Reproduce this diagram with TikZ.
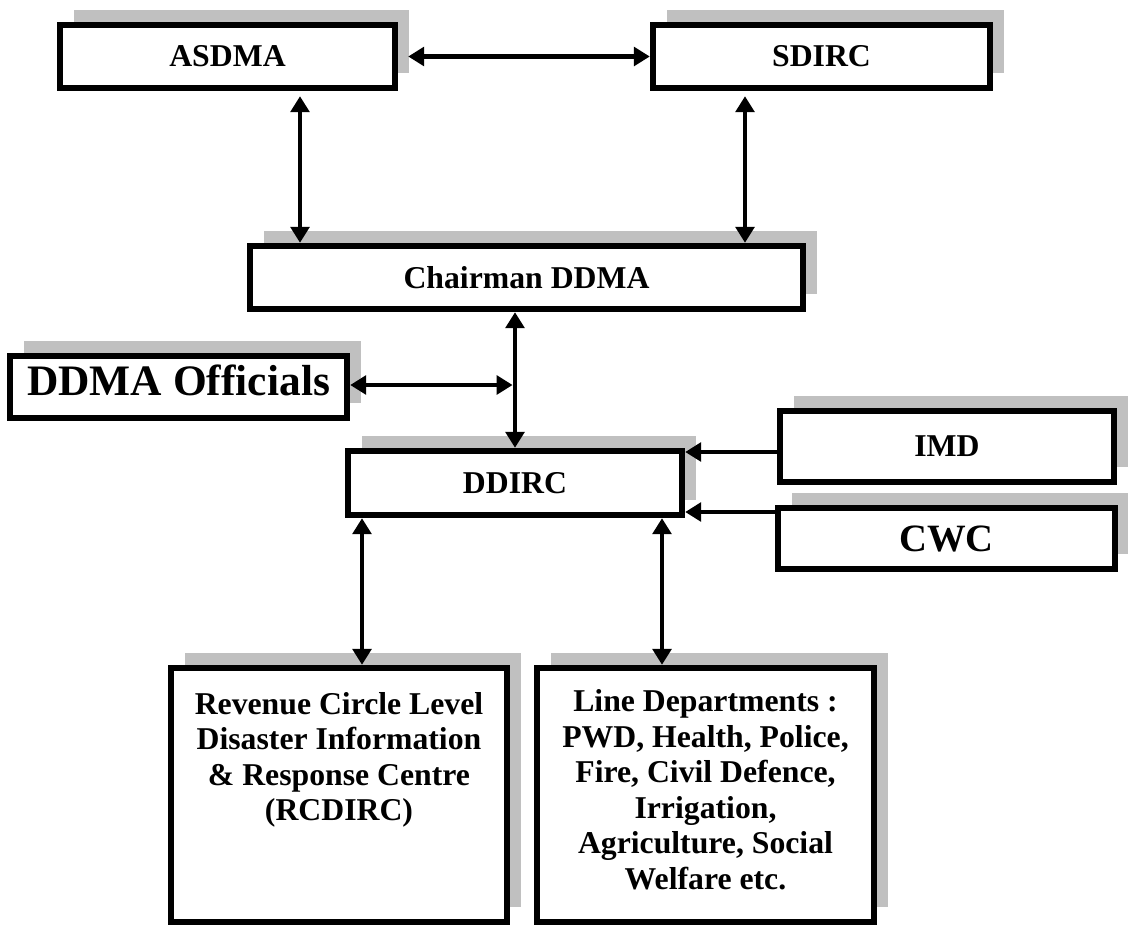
\documentclass[tikz,border=0pt]{standalone}
\usepackage{fontspec}
\setmainfont{Liberation Serif}
\usetikzlibrary{arrows.meta,shadows}
\definecolor{shadowgray}{RGB}{192,192,192}

\begin{document}
\begin{tikzpicture}[x=0.75pt,y=0.75pt,yscale=-1,xscale=1,
  box/.style={draw, line width=4.8pt, fill=white, inner sep=0pt, font=\bfseries\fontsize{23.8}{26.7}\selectfont,
    drop shadow={shadow xshift=10.5pt, shadow yshift=11.25pt, fill=shadowgray, opacity=1}},
  bigtext/.style={font=\bfseries\fontsize{#1}{#1}\selectfont},
  boxtext/.style={font=\bfseries\fontsize{23.8}{26.7}\selectfont, align=center, inner sep=0pt},
  link/.style={line width=3.6pt, {Triangle[length=12pt,width=14pt]}-{Triangle[length=12pt,width=14pt]}},
  feed/.style={line width=3.6pt, -{Triangle[length=12pt,width=14pt]}}]
\useasboundingbox (0,0) rectangle (1128,932);
\node[box, minimum width=251.25pt, minimum height=47.25pt] (asdma) at (227.5,56.5) {ASDMA};
\node[box, minimum width=252.75pt, minimum height=47.25pt] (sdirc) at (821.5,56.5) {SDIRC};
\node[box, minimum width=414.75pt, minimum height=47.25pt] (chairman) at (526.5,277.5) {Chairman DDMA};
\node[box, bigtext=32.6, text depth=10pt, minimum width=252.75pt, minimum height=46.5pt] (officials) at (178.5,387) {DDMA Officials};
\node[box, minimum width=250.5pt, minimum height=48pt] (ddirc) at (515,483) {DDIRC};
\node[box, minimum width=250.5pt, minimum height=53.25pt] (imd) at (947,446.5) {IMD};
\node[box, bigtext=29, minimum width=252.75pt, minimum height=45.75pt] (cwc) at (946.5,538.5) {CWC};
\node[box, minimum width=252pt, minimum height=190.5pt] (rcdirc) at (339,795) {};
\node[box, minimum width=252.75pt, minimum height=190.5pt] (linedept) at (705.5,795) {};
\node[boxtext, anchor=north] (rcdirc-text) at ([shift={(0,27)}]rcdirc.north) {Revenue Circle Level\\Disaster Information\\\& Response Centre\\(RCDIRC)};
\node[boxtext, anchor=north] (linedept-text) at ([shift={(0,24.5)}]linedept.north) {Line Departments :\\PWD, Health, Police,\\Fire, Civil Defence,\\Irrigation,\\Agriculture, Social\\Welfare etc.};
\coordinate (asdma-drop) at ([shift={(72.5,5)}]asdma.south);
\coordinate (sdirc-drop) at ([shift={(-76.5,5)}]sdirc.south);
\coordinate (officials-join) at (ddirc.north |- officials.east);
\coordinate (imd-feed) at ([shift={(0,5.5)}]imd.west);
\coordinate (cwc-feed) at ([shift={(0,-26.5)}]cwc.west);
\coordinate (rcdirc-rise) at ([shift={(-153,0)}]ddirc.south);
\coordinate (linedept-rise) at ([shift={(147,0)}]ddirc.south);
\draw[link] ([shift={(10,0)}]asdma.east) -- (sdirc.west);
\draw[link] (asdma-drop) -- (asdma-drop |- chairman.north);
\draw[link] (sdirc-drop) -- (sdirc-drop |- chairman.north);
\draw[link] (ddirc.north |- chairman.south) -- (ddirc.north);
\draw[link, shorten >=1.8pt] ([shift={(0,-2)}]officials.east) -- ([shift={(0,-2)}]officials-join);
\draw[feed] (imd-feed) -- (imd-feed -| ddirc.east);
\draw[feed] (cwc-feed) -- (cwc-feed -| ddirc.east);
\draw[link] (rcdirc-rise) -- (rcdirc-rise |- rcdirc.north);
\draw[link] (linedept-rise) -- (linedept-rise |- linedept.north);
\end{tikzpicture}
\end{document}
